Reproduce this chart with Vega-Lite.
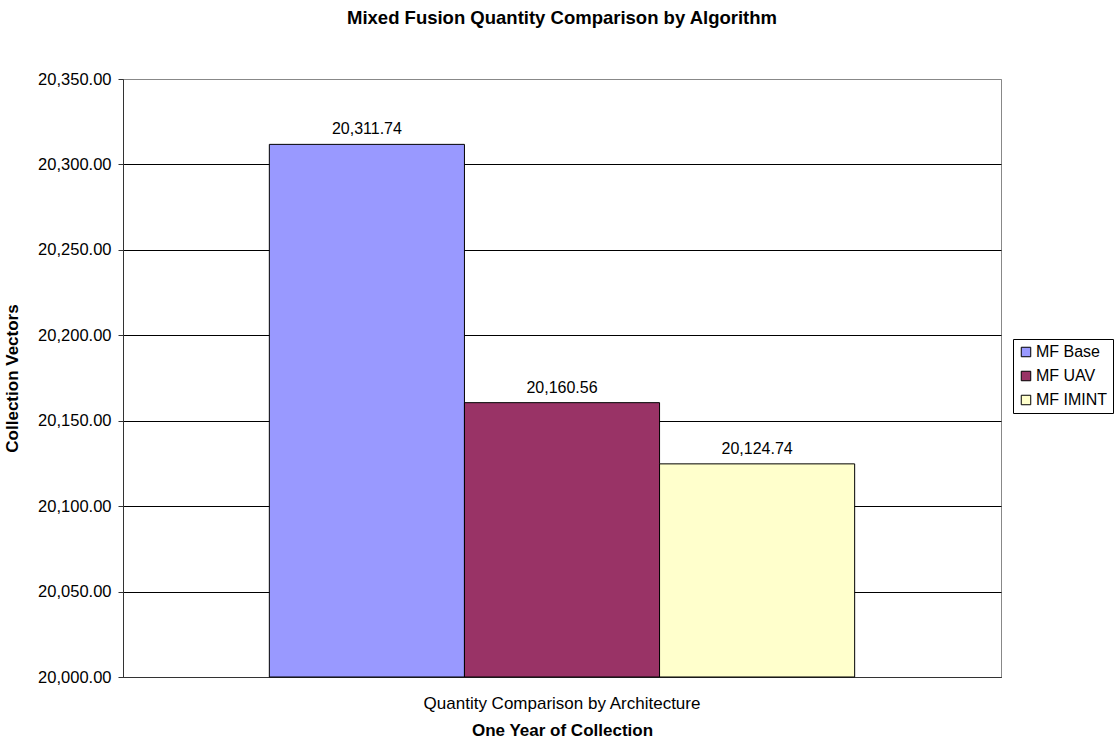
{
  "$schema": "https://vega.github.io/schema/vega-lite/v6.json",
  "width": 878,
  "height": 598,
  "autosize": {"type": "none"},
  "padding": {"left": 123, "top": 79, "right": 116, "bottom": 63},
  "background": "white",
  "title": {
    "text": "Mixed Fusion Quantity Comparison by Algorithm",
    "font": "Liberation Sans",
    "fontSize": 18.5,
    "fontWeight": "bold",
    "color": "#000000",
    "anchor": "middle",
    "frame": "group",
    "baseline": "alphabetic",
    "offset": 29
  },
  "data": {
    "values": [
      {"category": "Quantity Comparison by Architecture", "series": "MF Base", "value": 20311.74},
      {"category": "Quantity Comparison by Architecture", "series": "MF UAV", "value": 20160.56},
      {"category": "Quantity Comparison by Architecture", "series": "MF IMINT", "value": 20124.74}
    ]
  },
  "encoding": {
    "x": {
      "field": "category",
      "type": "nominal",
      "scale": {"paddingInner": 0, "paddingOuter": 0.25},
      "axis": {
        "title": "One Year of Collection",
        "labelAngle": 0,
        "labelFontSize": 17,
        "labelLimit": 0,
        "labelPadding": 18,
        "ticks": false,
        "titleFontSize": 17,
        "titleFontWeight": "bold",
        "titlePadding": 11
      }
    },
    "xOffset": {
      "field": "series",
      "type": "nominal",
      "sort": ["MF Base", "MF UAV", "MF IMINT"],
      "scale": {"paddingInner": 0, "paddingOuter": 0}
    },
    "y": {
      "field": "value",
      "type": "quantitative",
      "scale": {"domain": [20000, 20350], "zero": false, "nice": false},
      "axis": {
        "title": "Collection Vectors",
        "values": [20000, 20050, 20100, 20150, 20200, 20250, 20300, 20350],
        "format": ",.2f",
        "labelFontSize": 16.5,
        "labelPadding": 7,
        "tickSize": 5,
        "titleFontSize": 17,
        "titleFontWeight": "bold",
        "titleX": -102,
        "titleY": 299,
        "gridColor": {
          "condition": {"test": "datum.value == 20350", "value": "#888888"},
          "value": "#000000"
        }
      }
    }
  },
  "layer": [
    {
      "mark": {"type": "bar", "stroke": "#000000", "strokeWidth": 1},
      "encoding": {
        "y2": {"datum": 20000},
        "color": {
          "field": "series",
          "type": "nominal",
          "sort": ["MF Base", "MF UAV", "MF IMINT"],
          "scale": {
            "domain": ["MF Base", "MF UAV", "MF IMINT"],
            "range": ["#9999FF", "#993366", "#FFFFCC"]
          },
          "legend": {
            "title": null,
            "orient": "none",
            "legendX": 890,
            "legendY": 260,
            "symbolType": "square",
            "symbolSize": 90,
            "symbolStrokeColor": "#000000",
            "symbolStrokeWidth": 1,
            "labelFontSize": 16,
            "labelColor": "#000000",
            "labelOffset": 2,
            "rowPadding": 8,
            "padding": 5,
            "strokeColor": "#000000",
            "fillColor": "#ffffff"
          }
        }
      }
    },
    {
      "mark": {"type": "text", "dy": -15, "fontSize": 16, "color": "#000000", "font": "Liberation Sans"},
      "encoding": {
        "text": {"field": "value", "type": "quantitative", "format": ",.2f"}
      }
    }
  ],
  "config": {
    "font": "Liberation Sans",
    "view": {"stroke": "#888888", "strokeWidth": 1},
    "axis": {
      "labelFont": "Liberation Sans",
      "titleFont": "Liberation Sans",
      "labelColor": "#000000",
      "titleColor": "#000000",
      "domainColor": "#333333",
      "tickColor": "#333333",
      "gridOpacity": 1,
      "gridWidth": 1
    },
    "axisX": {"grid": false},
    "legend": {"labelFont": "Liberation Sans"}
  }
}
